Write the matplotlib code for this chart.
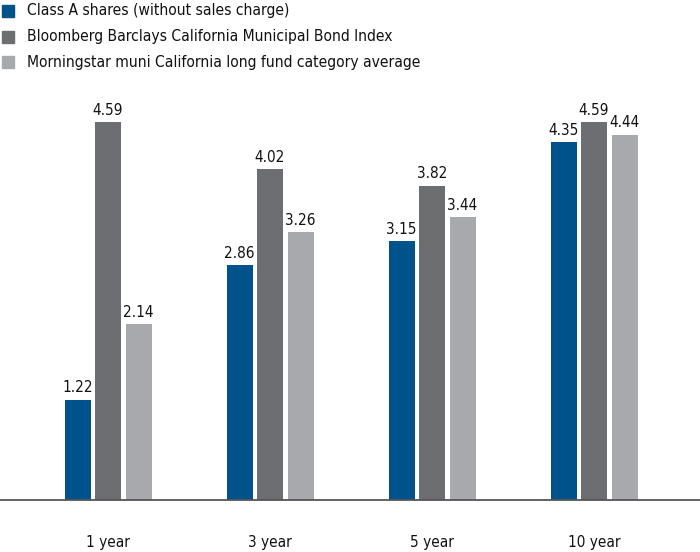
import matplotlib
matplotlib.use("Agg")
import matplotlib.pyplot as plt
import numpy as np

periods = ["1 year", "3 year", "5 year", "10 year"]
series_names = [
    "Class A shares (without sales charge)",
    "Bloomberg Barclays California Municipal Bond Index",
    "Morningstar muni California long fund category average",
]
class_a = [1.22, 2.86, 3.15, 4.35]
index_vals = [4.59, 4.02, 3.82, 4.59]
category_avg = [2.14, 3.26, 3.44, 4.44]

colors = ["#00528b", "#6d6e71", "#a7a9ac"]

plt.rcParams["font.family"] = ["DejaVu Sans"]
plt.rcParams["font.stretch"] = "condensed"

W, H = 700, 552
fig = plt.figure(figsize=(W / 100, H / 100), dpi=100)
base_px = 500
top_px = 80
ax = fig.add_axes([0, (H - base_px) / H, 1, (base_px - top_px) / H])

step = 162.0
x = np.arange(len(periods))
width = 26 / step
offset = 30.5 / step
px_per_unit = 82.3

for i, (vals, col) in enumerate(zip([class_a, index_vals, category_avg], colors)):
    xs = x + (i - 1) * offset
    ax.bar(xs, vals, width=width, color=col, zorder=2)
    for xx, v in zip(xs, vals):
        ax.text(xx, v + 0.05, f"{v:.2f}", ha="center", va="bottom", fontsize=11,
                color="#111111", fontstretch="condensed")

ax.set_xlim(-108 / step, (W - 108) / step)
ax.set_ylim(0, (base_px - top_px) / px_per_unit)

for s in ["top", "right", "left"]:
    ax.spines[s].set_visible(False)
ax.spines["bottom"].set_color("#555555")
ax.spines["bottom"].set_linewidth(1.3)
ax.spines["bottom"].set_zorder(3)
ax.set_yticks([])
ax.set_xticks(x)
ax.set_xticklabels(periods, fontsize=11, color="#111111", fontstretch="condensed")
ax.tick_params(axis="x", length=0, pad=25)

# legend
for i, (name, col) in enumerate(zip(series_names, colors)):
    yc = 11 + i * 25.5
    fig.patches.append(plt.Rectangle((2 / W, 1 - (yc + 6) / H), 12 / W, 12 / H,
                                     transform=fig.transFigure, color=col))
    fig.text(27 / W, 1 - yc / H, name, ha="left", va="center", fontsize=11.2,
             color="#111111", fontstretch="condensed")

fig.savefig("out.png", dpi=100)
